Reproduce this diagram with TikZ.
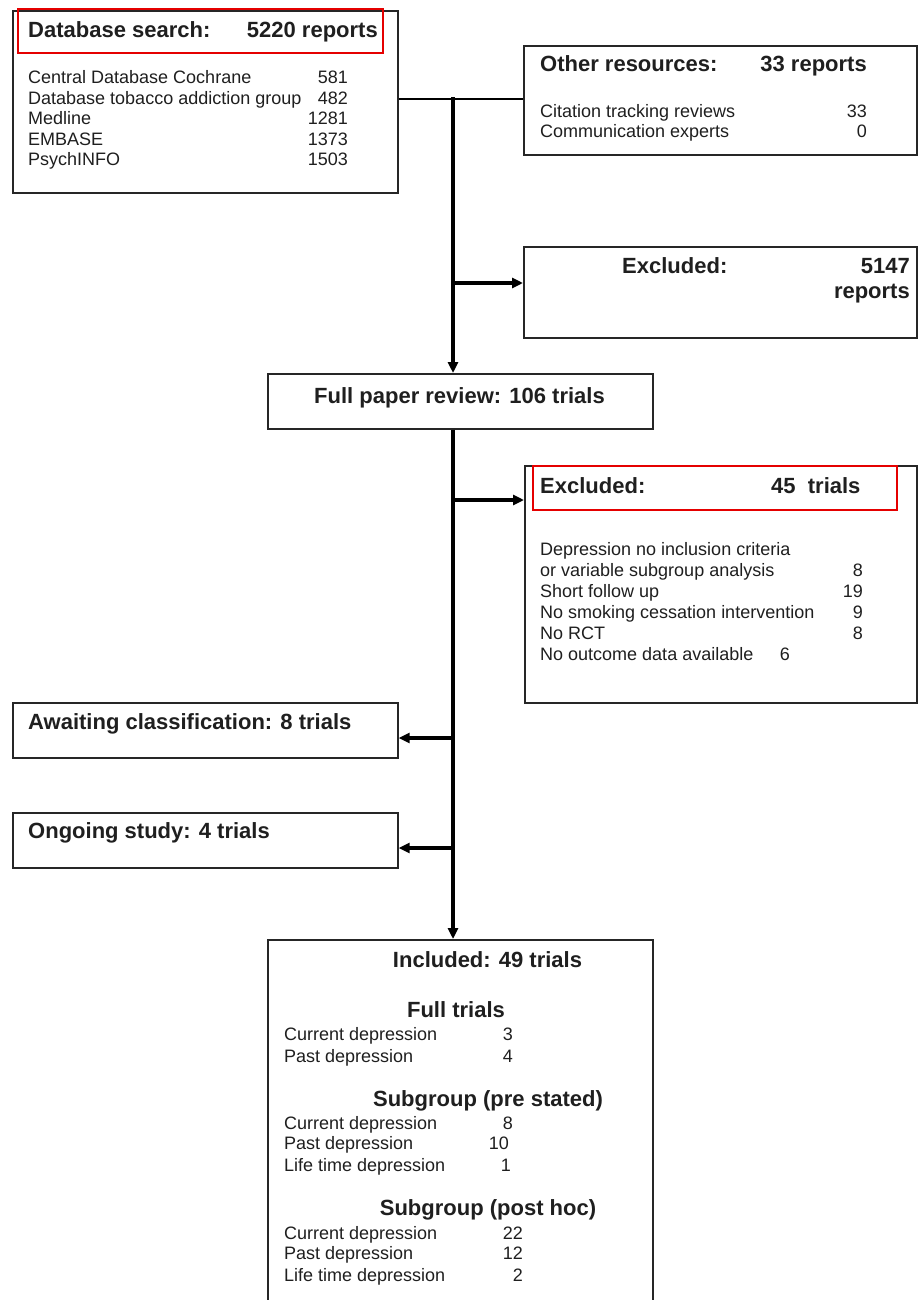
\documentclass[tikz,border=0pt]{standalone}
\usepackage{fontspec}
\setmainfont{Liberation Sans}
\usetikzlibrary{arrows.meta}
\begin{document}
\begin{tikzpicture}[x=1pt,y=-1pt,
  box/.style={draw=black!85, line width=1.7pt, rectangle, inner sep=0pt, anchor=north west},
  redbox/.style={draw=red!90!black, line width=2.2pt, rectangle, inner sep=0pt, anchor=north west},
  body/.style={font=\fontsize{18}{20.4}\selectfont, text=black!88, inner sep=0pt, anchor=base west},
  num/.style={body, anchor=base east},
  head/.style={font=\fontsize{22}{24}\selectfont\bfseries, text=black!88, inner sep=0pt, anchor=base west},
  headc/.style={head, anchor=base},
  flow/.style={line width=3.2pt, -{Triangle[length=11pt,width=10pt]}},
  link/.style={line width=1.6pt}]
\useasboundingbox[fill=white] (0,0) rectangle (918,1300);

% boxes
\node[box, minimum width=385pt, minimum height=182pt] (db) at (12,10) {};
\node[box, minimum width=393pt, minimum height=109pt] (other) at (523,45) {};
\node[box, minimum width=393pt, minimum height=91pt] (ex1) at (523,246) {};
\node[box, minimum width=385pt, minimum height=55pt] (full) at (267,373) {};
\node[box, minimum width=392pt, minimum height=237pt] (ex2) at (524,465) {};
\node[box, minimum width=385pt, minimum height=55pt] (await) at (12,702) {};
\node[box, minimum width=385pt, minimum height=55pt] (ongo) at (12,812) {};
\node[box, minimum width=385pt, minimum height=380pt] (incl) at (267,939) {};
\node[redbox, minimum width=365pt, minimum height=44pt] (r1) at (17,8) {};
\node[redbox, minimum width=364pt, minimum height=44pt] (r2) at (532,465) {};

% database search
\node[head] (dbh1) at (28,38) {Database search:};
\node[head, anchor=base east] (dbh2) at (378,38) {5220 reports};
\node[body] (d1) at (28,84) {Central Database Cochrane};
\node[num] (d1n) at (348,84) {581};
\node[body] (d2) at (28,104.4) {Database tobacco addiction group};
\node[num] (d2n) at (348,104.4) {482};
\node[body] (d3) at (28,124.8) {Medline};
\node[num] (d3n) at (348,124.8) {1281};
\node[body] (d4) at (28,145.2) {EMBASE};
\node[num] (d4n) at (348,145.2) {1373};
\node[body] (d5) at (28,165.6) {PsychINFO};
\node[num] (d5n) at (348,165.6) {1503};

% other resources
\node[head] (oh1) at (540,72) {Other resources:};
\node[head, anchor=base east] (oh2) at (867,72) {33 reports};
\node[body] (o1) at (540,118) {Citation tracking reviews};
\node[num] (o1n) at (867,118) {33};
\node[body] (o2) at (540,138) {Communication experts};
\node[num] (o2n) at (867,138) {0};

% excluded 5147
\node[head] (e1h) at (622,273) {Excluded:};
\node[head, anchor=base east] (e1n) at (910,273) {5147};
\node[head, anchor=base east] (e1r) at (910,298) {reports};

% full paper review
\node[headc] (fh) at (459.5,403) {Full paper review: 106 trials};

% excluded 45
\node[head] (e2h) at (540,493) {Excluded:};
\node[head] (e2n) at (771,493) {45\ \ trials};
\node[body] (x1) at (540,555) {Depression no inclusion criteria};
\node[body] (x2) at (540,576) {or variable subgroup analysis};
\node[num] (x2n) at (863,576) {8};
\node[body] (x3) at (540,597) {Short follow up};
\node[num] (x3n) at (863,597) {19};
\node[body] (x4) at (540,618) {No smoking cessation intervention};
\node[num] (x4n) at (863,618) {9};
\node[body] (x5) at (540,639) {No RCT};
\node[num] (x5n) at (863,639) {8};
\node[body] (x6) at (540,660) {No outcome data available};
\node[num] (x6n) at (790,660) {6};

% awaiting / ongoing
\node[head] (ah) at (28,729) {Awaiting classification: 8 trials};
\node[head] (gh) at (28,838) {Ongoing study: 4 trials};

% included
\node[headc] (ih) at (487.5,967) {Included: 49 trials};
\node[headc] (s1) at (456,1017) {Full trials};
\node[body] (i1) at (284,1040) {Current depression};
\node[num] (i1n) at (513,1040) {3};
\node[body] (i2) at (284,1062) {Past depression};
\node[num] (i2n) at (513,1062) {4};
\node[headc] (s2) at (488,1106) {Subgroup (pre stated)};
\node[body] (i3) at (284,1129) {Current depression};
\node[num] (i3n) at (513,1129) {8};
\node[body] (i4) at (284,1149) {Past depression};
\node[num] (i4n) at (509,1149) {10};
\node[body] (i5) at (284,1171) {Life time depression};
\node[num] (i5n) at (511,1171) {1};
\node[headc] (s3) at (488,1215) {Subgroup (post hoc)};
\node[body] (i6) at (284,1239) {Current depression};
\node[num] (i6n) at (523,1239) {22};
\node[body] (i7) at (284,1259) {Past depression};
\node[num] (i7n) at (523,1259) {12};
\node[body] (i8) at (284,1281) {Life time depression};
\node[num] (i8n) at (523,1281) {2};

% connectors
\coordinate (j0) at (453,99);
\coordinate (b1) at (453,283);
\coordinate (b2) at (453,500);
\coordinate (b3) at (453,738);
\coordinate (b4) at (453,848);
\draw[link] (j0 -| db.east) -- (j0 -| other.west);
\draw[flow] ([yshift=1.6pt]j0) -- (j0 |- full.north);
\draw[flow] (full.south -| j0) -- (j0 |- incl.north);
\draw[flow] (b1) -- (b1 -| ex1.west);
\draw[flow] (b2) -- (b2 -| ex2.west);
\draw[flow] (b3) -- (b3 -| await.east);
\draw[flow] (b4) -- (b4 -| ongo.east);
\end{tikzpicture}
\end{document}
